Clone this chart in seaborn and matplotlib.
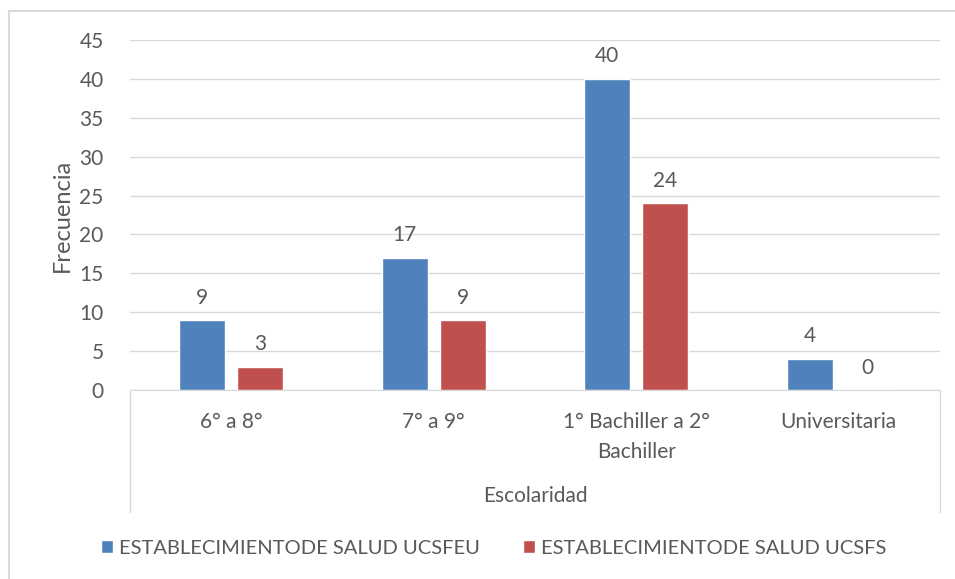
import pandas as pd
import matplotlib.pyplot as plt
import seaborn as sns
from matplotlib.patches import Rectangle, Patch

categorias = ["6° a 8°", "7° a 9°", "1° Bachiller a 2°\nBachiller", "Universitaria"]
ucsfeu = [9, 17, 40, 4]
ucsfs = [3, 9, 24, 0]
series = ["ESTABLECIMIENTODE SALUD UCSFEU", "ESTABLECIMIENTODE SALUD UCSFS"]
colores = ["#4F81BD", "#C0504D"]

df = pd.DataFrame({
    "Escolaridad": categorias * 2,
    "Frecuencia": ucsfeu + ucsfs,
    "Serie": [series[0]] * 4 + [series[1]] * 4,
})

sns.set_style("white")
plt.rcParams["font.family"] = ["Lato", "DejaVu Sans"]
gris = "#595959"
fs = 15

fig = plt.figure(figsize=(9.55, 5.79), dpi=100)
ax = fig.add_axes([130 / 955, 1 - 390 / 579, 810 / 955, 350 / 579])

sns.barplot(data=df, x="Escolaridad", y="Frecuencia", hue="Serie",
            palette=colores, width=0.572, gap=0.2, ax=ax, legend=False,
            saturation=1)

for c in ax.containers:
    ax.bar_label(c, padding=9, fontsize=fs, color=gris)

ax.set_ylim(0, 45)
ax.set_yticks(range(0, 46, 5))
ax.set_xlim(-0.5, 3.5)
ax.grid(axis="y", color="#D9D9D9", linewidth=1)
ax.set_axisbelow(True)
for s in ["top", "right", "left"]:
    ax.spines[s].set_visible(False)
ax.spines["bottom"].set_color("#D9D9D9")
ax.tick_params(axis="y", length=0, labelsize=fs, colors=gris, pad=19)
ax.tick_params(axis="x", length=0, labelsize=fs, colors=gris, pad=16)
for t in ax.get_xticklabels():
    t.set_linespacing(1.6)
ax.set_xlabel("Escolaridad", fontsize=fs, color=gris)
ax.xaxis.set_label_coords(0.5, -0.275)
ax.set_ylabel("Frecuencia", fontsize=17, color=gris)
ax.yaxis.set_label_coords(-0.07, 0.5)

# lineas de categoria que bajan hasta debajo del titulo del eje
for x in [0, 1]:
    ax.plot([x, x], [0, -0.349], transform=ax.transAxes, color="#D9D9D9",
            linewidth=1, clip_on=False)

# borde del grafico (cortado a la derecha y abajo)
fig.patches.append(Rectangle((8.5 / 955, -0.1), 1.2, 1.1 - 10.5 / 579,
                             transform=fig.transFigure, fill=False,
                             edgecolor="#D9D9D9", linewidth=1.5))

handles = [Patch(facecolor=c) for c in colores]
fig.legend(handles, series, loc="center", bbox_to_anchor=(0.517, 1 - 548 / 579),
           ncol=2, frameon=False, fontsize=14.5, labelcolor=gris,
           handlelength=0.6, handleheight=0.6, handletextpad=0.3,
           columnspacing=2.1)

fig.savefig("out.png", dpi=100)
